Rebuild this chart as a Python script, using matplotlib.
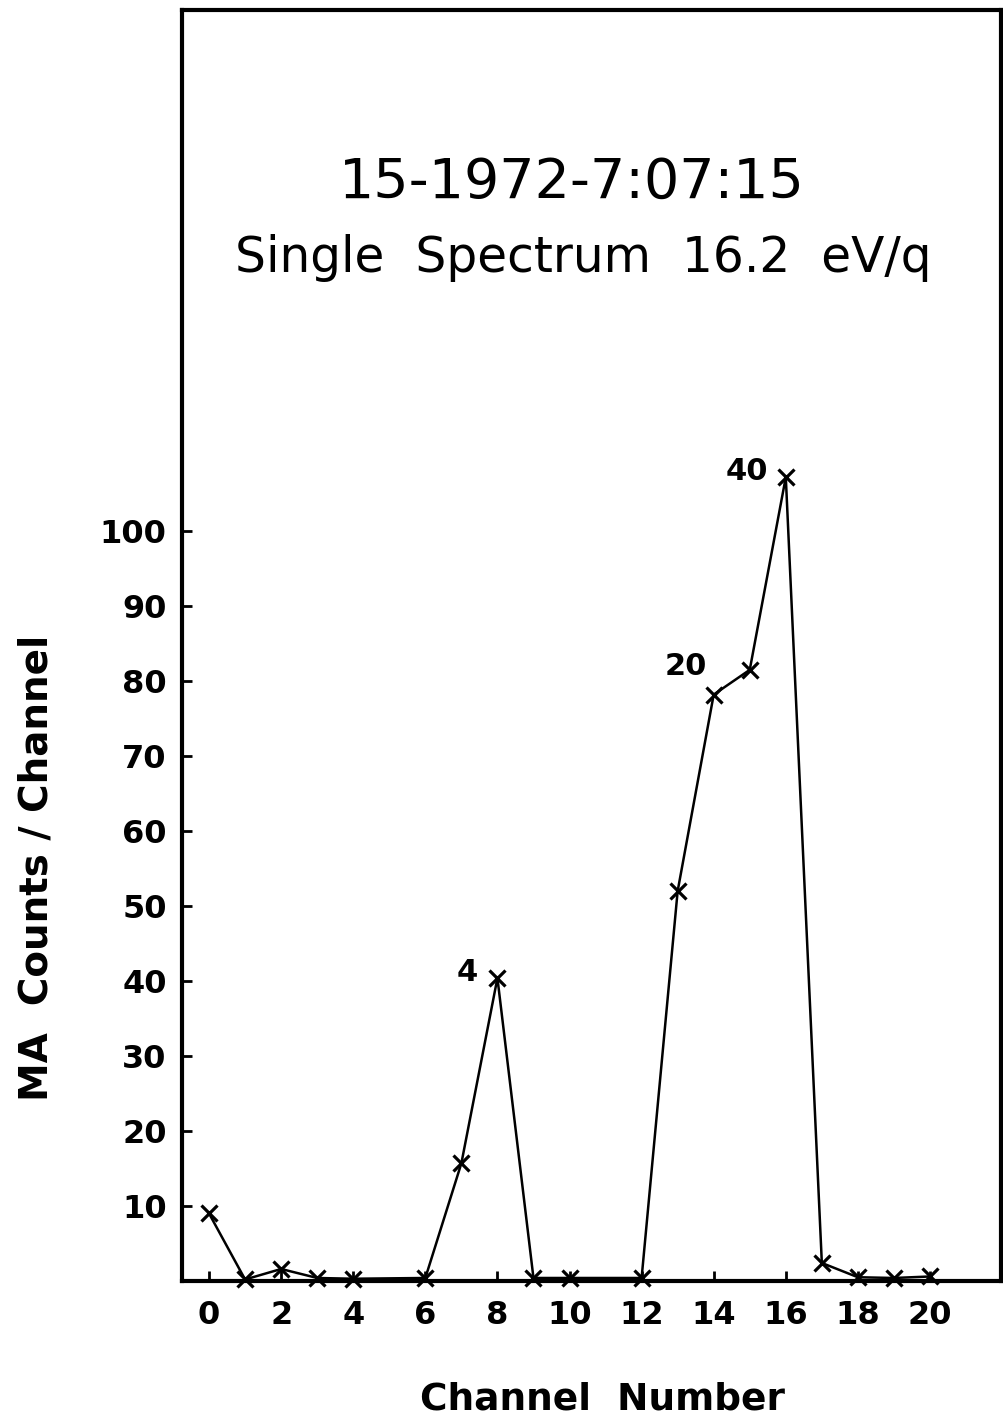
import matplotlib
matplotlib.use("Agg")
import matplotlib.pyplot as plt

# Data: channel number vs MA counts per channel (channels 5 and 11 not plotted)
channels = [0, 1, 2, 3, 4, 6, 7, 8, 9, 10, 12, 13, 14, 15, 16, 17, 18, 19, 20]
counts = [9.0, 0.2, 1.6, 0.4, 0.3, 0.4, 15.7, 40.4, 0.4, 0.4, 0.4, 52.0, 78.2, 81.5, 107.2, 2.4, 0.5, 0.4, 0.6]

# Numbers written next to some of the peaks
note_channels = [8, 14, 16]
note_texts = ["4", "20", "40"]
note_offsets = [(-22, 4), (-20, 20), (-28, 4)]

xticks = list(range(0, 21, 2))
yticks = list(range(10, 101, 10))

plt.rcParams["font.family"] = ["DejaVu Sans"]

fig = plt.figure(figsize=(10.04, 14.23), dpi=100)
ax = fig.add_axes([0.1813, 0.0998, 0.8157, 0.8932])

ax.plot(channels, counts, color="black", linewidth=1.8, marker="x",
        markersize=12, markeredgewidth=2.3, clip_on=False, zorder=3)

for ch, txt, off in zip(note_channels, note_texts, note_offsets):
    y = counts[channels.index(ch)]
    ax.annotate(txt, (ch, y), xytext=off, textcoords="offset points",
                ha="center", va="center", fontsize=22, fontweight="bold")

ax.set_xlim(-0.75, 21.97)
ax.set_ylim(0, 169.5)
ax.set_xticks(xticks)
ax.set_yticks(yticks)
ax.tick_params(direction="in", length=7, width=2, labelsize=23, colors="black")
ax.tick_params(axis="x", pad=14)
ax.tick_params(axis="y", pad=11)
for lab in ax.get_xticklabels() + ax.get_yticklabels():
    lab.set_fontweight("bold")

for sp in ax.spines.values():
    sp.set_linewidth(3)

# Title text inside the frame
ax.text(0.476, 0.852, "15-1972-7:07:15", transform=ax.transAxes,
        ha="center", va="baseline", fontsize=40)
ax.text(0.490, 0.794, "Single  Spectrum  16.2  eV/q", transform=ax.transAxes,
        ha="center", va="baseline", fontsize=35)

ax.set_xlabel("Channel  Number", fontsize=27, fontweight="bold")
ax.xaxis.set_label_coords(0.514, -0.079)
ax.set_ylabel("MA  Counts / Channel", fontsize=28, fontweight="bold")
ax.yaxis.set_label_coords(-0.155, 0.325)

fig.savefig("out.png", dpi=100)
